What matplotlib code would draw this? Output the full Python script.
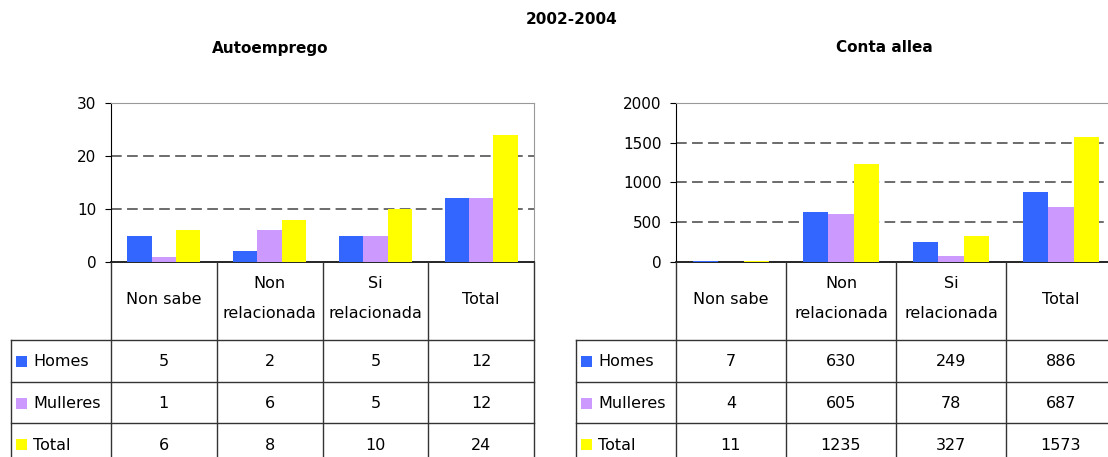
import numpy as np
import matplotlib
matplotlib.use('Agg')
from matplotlib import pyplot as plt
from matplotlib.patches import Rectangle

plt.rcParams['font.family'] = ['DejaVu Sans']

categories = ['Non sabe', 'Non\nrelacionada', 'Si\nrelacionada', 'Total']
series = ['Homes', 'Mulleres', 'Total']
colors = ['#3366FF', '#CC99FF', '#FFFF00']

auto_homes = [5, 2, 5, 12]
auto_mulleres = [1, 6, 5, 12]
auto_total = [6, 8, 10, 24]

conta_homes = [7, 630, 249, 886]
conta_mulleres = [4, 605, 78, 687]
conta_total = [11, 1235, 327, 1573]

W, H = 1108, 457
fig = plt.figure(figsize=(W / 100, H / 100), dpi=100)

# overlay in pixel coordinates for titles and the data tables
over = fig.add_axes([0, 0, 1, 1], zorder=5)
over.set_xlim(0, W)
over.set_ylim(H, 0)
over.axis('off')

AX_TOP, AX_BOT = 103, 262
ROWS = [340, 382, 423, 465]


def px_axes(x0, y0, x1, y1):
    return fig.add_axes([x0 / W, 1 - y1 / H, (x1 - x0) / W, (y1 - y0) / H])


def panel(data, ymax, ystep, left, right, lab_left, title, title_x):
    ax = px_axes(left, AX_TOP, right, AX_BOT)
    x = np.arange(len(categories))
    width = 0.23
    for i, (vals, c) in enumerate(zip(data, colors)):
        ax.bar(x + (i - 1) * width, vals, width, color=c, zorder=3, linewidth=0)
    ax.set_xlim(-0.5, len(categories) - 0.5)
    ax.set_ylim(0, ymax)
    ticks = np.arange(0, ymax + 1, ystep)
    ax.set_yticks(ticks)
    ax.set_xticks([])
    for t in ticks[1:]:
        ax.axhline(t, color='#444444', lw=1.1, ls=(0, (7, 3.5)), zorder=1)
    ax.spines['left'].set_color('black')
    ax.spines['bottom'].set_color('black')
    ax.spines['bottom'].set_linewidth(1.2)
    ax.spines['top'].set_color('#999999')
    ax.spines['right'].set_color('#999999')
    ax.tick_params(axis='y', length=4.5, width=0.8, labelsize=11, pad=6)

    # table
    colw = (right - left) / len(categories)
    edges = [left + k * colw for k in range(len(categories) + 1)]
    lc = '#333333'
    for e in edges:
        over.plot([e, e], [AX_BOT, ROWS[-1]], color=lc, lw=1, clip_on=False)
    over.plot([lab_left, lab_left], [ROWS[0], ROWS[-1]], color=lc, lw=1, clip_on=False)
    for r in ROWS:
        over.plot([lab_left, right], [r, r], color=lc, lw=1, clip_on=False)
    for k, cat in enumerate(categories):
        cx = (edges[k] + edges[k + 1]) / 2
        over.text(cx, 299, cat, ha='center', va='center', fontsize=11.5,
                  linespacing=2.25)
        for j, vals in enumerate(data):
            cy = (ROWS[j] + ROWS[j + 1]) / 2
            over.text(cx, cy + 1, str(vals[k]), ha='center', va='center', fontsize=11.5)
    for j, name in enumerate(series):
        cy = (ROWS[j] + ROWS[j + 1]) / 2
        over.add_patch(Rectangle((lab_left + 5, cy - 5), 11, 11,
                                 color=colors[j], lw=0))
        over.text(lab_left + 22, cy + 1, name, ha='left', va='center', fontsize=11.5)

    over.text(title_x, 48, title, ha='center', va='center', fontsize=11,
              fontweight='bold')
    return ax


panel([auto_homes, auto_mulleres, auto_total], 30, 10, 111, 534, 11,
      'Autoemprego', 270)
panel([conta_homes, conta_mulleres, conta_total], 2000, 500, 676, 1116, 576,
      'Conta allea', 884)

over.text(572, 20, '2002-2004', ha='center', va='center', fontsize=11,
          fontweight='bold')

fig.savefig('out.png', dpi=100)
